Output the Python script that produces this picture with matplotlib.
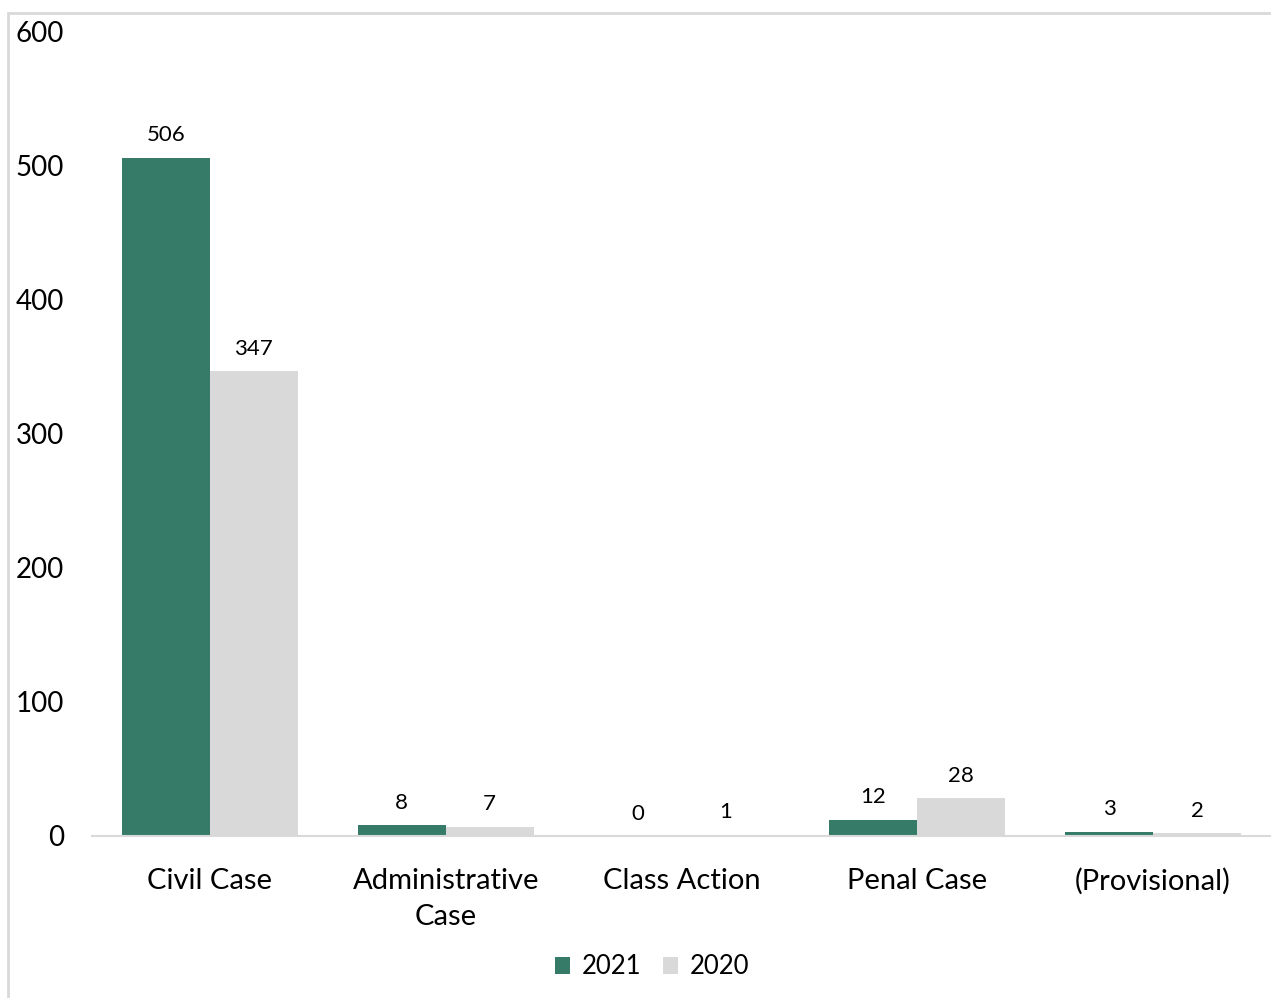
import numpy as np
import matplotlib.pyplot as plt
from matplotlib.patches import Rectangle

categories = ['Civil Case', 'Administrative\nCase', 'Class Action', 'Penal Case', '(Provisional)']
cases_2021 = [506, 8, 0, 12, 3]
cases_2020 = [347, 7, 1, 28, 2]
yticks = [0, 100, 200, 300, 400, 500, 600]

GREEN = '#367B67'
GREY = '#D9D9D9'

plt.rcParams['font.family'] = ['Lato', 'DejaVu Sans']

W, H = 1271, 998
fig = plt.figure(figsize=(W / 100, H / 100), dpi=100)

# light frame around the chart area
fig.patches.append(Rectangle((8 / W, -0.1), 1.2, (H - 13) / H + 0.1,
                             transform=fig.transFigure, fill=False,
                             edgecolor=GREY, linewidth=2))

ax = fig.add_axes([92 / W, 162 / H, (W - 92) / W, (836 - 32) / H])

x = np.arange(len(categories))
bw = 0.373
b1 = ax.bar(x - bw / 2, cases_2021, bw, color=GREEN, label='2021')
b2 = ax.bar(x + bw / 2, cases_2020, bw, color=GREY, label='2020')

for bars, vals in ((b1, cases_2021), (b2, cases_2020)):
    for rect, v in zip(bars, vals):
        ax.annotate(f'{v}', (rect.get_x() + rect.get_width() / 2, v),
                    xytext=(0, 9), textcoords='offset points',
                    ha='center', va='bottom', fontsize=16)

ax.set_xlim(-0.5, len(categories) - 0.5)
ax.set_ylim(0, 600)
ax.set_yticks(yticks)
ax.set_xticks(x)
ax.set_xticklabels(categories, fontsize=21, linespacing=1.5)
ax.tick_params(axis='y', length=0, pad=20, labelsize=20)
ax.tick_params(axis='x', length=0, pad=23)
for s in ('top', 'right', 'left'):
    ax.spines[s].set_visible(False)
ax.spines['bottom'].set_color(GREY)
ax.spines['bottom'].set_linewidth(1.5)

fig.legend(handles=[b1, b2], loc='center', bbox_to_anchor=(652 / W, 1 - 967 / H),
           ncol=2, frameon=False, fontsize=18.5, handlelength=0.6, handleheight=0.6,
           handletextpad=0.45, columnspacing=0.85)

fig.savefig('out.png', dpi=100)
